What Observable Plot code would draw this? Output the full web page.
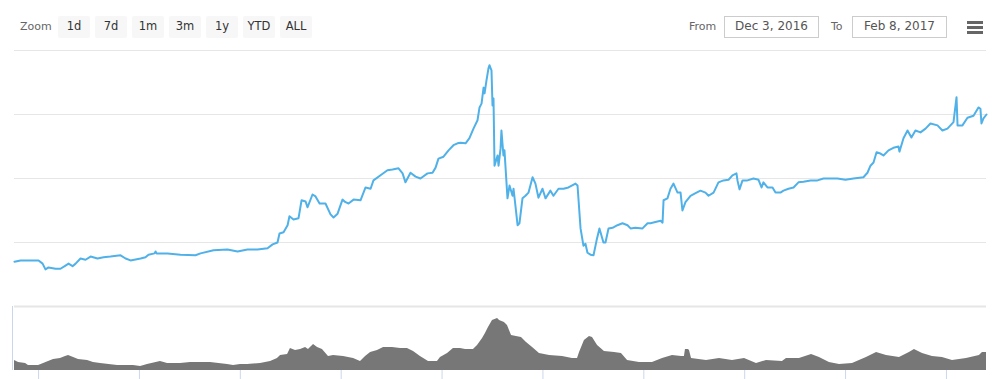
<!DOCTYPE html>
<html>
<head>
<meta charset="utf-8">
<script src="https://cdn.jsdelivr.net/npm/d3@7"></script>
<script src="https://cdn.jsdelivr.net/npm/@observablehq/plot@0.6"></script>
<style>
  body { margin: 0; background: #fff; font-family: "DejaVu Sans", sans-serif; }
  #wrap { position: relative; width: 999px; height: 379px; overflow: hidden; }
  #bar { position: absolute; left: 0; top: 0; width: 999px; height: 44px; }
  .lbl { position: absolute; top: 20px; font-size: 11px; color: #666; line-height: 14px; white-space: nowrap; }
  .btn { position: absolute; top: 16px; width: 32px; height: 22px; background: #f7f7f7; border-radius: 2px;
         font-size: 11.5px; color: #333; line-height: 20px; text-align: center; }
  .inp { position: absolute; top: 16px; width: 93px; height: 20px; border: 1px solid #ccc;
         font-size: 12px; color: #555; line-height: 19px; text-align: center; white-space: nowrap; }
  #menu { position: absolute; left: 967px; top: 21px; width: 16px; }
  #menu div { height: 3px; background: #666; margin-bottom: 2px; }
  #main { position: absolute; left: 0; top: 44px; }
  #nav { position: absolute; left: 0; top: 304px; }
  #main svg, #nav svg { max-width: none; }
</style>
</head>
<body>
<div id="wrap">
  <div id="bar"></div>
  <div id="main"></div>
  <div id="nav"></div>
</div>
<script>
// ---- data (time in days since 2016-12-03 00:00 UTC) ----
const zoomButtons = ["1d", "7d", "1m", "3m", "1y", "YTD", "ALL"];
const fromText = "Dec 3, 2016";
const toText = "Feb 8, 2017";

const priceDays = [
  0.33, 0.75, 1.44, 2.00, 2.28, 2.48, 2.69, 3.18, 3.52, 3.87,
  4.08, 4.36, 4.57, 4.91, 5.26, 5.61, 6.09, 6.51, 6.99, 7.69,
  8.04, 8.38, 9.08, 9.42, 9.63, 10.05, 10.12, 10.19, 10.95, 11.85,
  12.89, 13.24, 14.14, 15.11, 15.81, 16.50, 17.19, 17.89, 18.24, 18.58,
  18.72, 19.00, 19.28, 19.41, 19.69, 20.04, 20.25, 20.53, 20.66, 21.01,
  21.22, 21.50, 21.91, 22.26, 22.47, 22.75, 23.09, 23.30, 23.51, 23.86,
  24.34, 24.69, 25.04, 25.24, 25.73, 26.21, 26.56, 26.98, 27.26, 27.46,
  27.81, 28.16, 28.50, 28.99, 29.34, 29.55, 29.75, 30.10, 30.45, 30.79,
  31.07, 31.28, 31.63, 31.90, 32.18, 32.46, 32.60, 32.74, 32.88, 32.95,
  33.08, 33.22, 33.29, 33.36, 33.43, 33.50, 33.57, 33.64, 33.85, 33.92,
  34.06, 34.12, 34.26, 34.33, 34.54, 34.68, 34.89, 34.96, 35.24, 35.37,
  35.58, 35.79, 36.00, 36.28, 36.48, 36.69, 36.97, 37.18, 37.52, 37.73,
  38.08, 38.43, 38.77, 39.26, 39.40, 39.61, 39.81, 39.95, 40.09, 40.30,
  40.51, 40.72, 40.92, 41.20, 41.34, 41.55, 41.83, 42.17, 42.52, 42.87,
  43.08, 43.42, 43.91, 44.26, 44.46, 45.16, 45.30, 45.37, 45.64, 45.85,
  46.06, 46.34, 46.55, 46.68, 46.89, 47.24, 47.59, 47.93, 48.28, 48.49,
  48.84, 49.18, 49.53, 49.88, 50.15, 50.43, 50.50, 50.64, 50.85, 51.19,
  51.61, 51.96, 52.17, 52.30, 52.58, 52.93, 53.14, 53.48, 53.69, 54.04,
  54.39, 54.73, 55.08, 55.57, 56.05, 56.47, 57.44, 57.99, 58.55, 59.24,
  59.52, 59.73, 59.94, 60.15, 60.42, 60.63, 60.98, 61.32, 61.67, 61.74,
  62.02, 62.30, 62.57, 62.85, 63.20, 63.55, 63.89, 64.38, 64.72, 65.07,
  65.49, 65.70, 65.77, 66.11, 66.46, 66.88, 67.22, 67.36, 67.43, 67.57,
  67.78
];
const prices = [
  770, 772, 772, 772, 767, 758, 761, 759, 759, 764,
  767, 763, 767, 775, 773, 778, 775, 777, 778, 780,
  775, 772, 775, 777, 781, 783, 786, 783, 783, 781,
  780, 783, 788, 789, 786, 789, 789, 791, 797, 800,
  814, 816, 827, 841, 836, 838, 866, 864, 855, 875,
  872, 861, 861, 844, 839, 845, 867, 863, 861, 867,
  866, 886, 884, 897, 905, 913, 914, 916, 908, 894,
  909, 903, 900, 908, 909, 917, 931, 934, 944, 952,
  955, 956, 955, 963, 978, 991, 1011, 1017, 1042, 1033,
  1053, 1072, 1077, 1073, 1069, 1014, 1025, 920, 936, 920,
  947, 975, 936, 944, 869, 889, 873, 884, 827, 830,
  869, 873, 878, 902, 892, 870, 884, 869, 881, 873,
  884, 884, 886, 892, 889, 822, 795, 798, 784, 781,
  780, 803, 822, 800, 800, 822, 823, 827, 830, 827,
  822, 823, 822, 830, 830, 834, 831, 866, 869, 884,
  892, 878, 878, 850, 863, 873, 877, 881, 878, 873,
  878, 894, 897, 898, 905, 908, 897, 883, 897, 897,
  900, 898, 886, 894, 886, 886, 878, 878, 881, 884,
  886, 894, 895, 897, 897, 900, 900, 898, 900, 902,
  909, 920, 925, 941, 939, 936, 944, 948, 950, 942,
  963, 975, 964, 975, 972, 978, 986, 983, 975, 978,
  988, 1027, 983, 983, 995, 998, 1011, 1009, 986, 994,
  1000
];
const gridValues = [800, 900, 1000, 1100];

const volumeDays = [
  0.33, 0.61, 1.10, 1.30, 2.00, 2.35, 2.69, 3.04, 3.52, 3.87,
  4.08, 4.43, 4.77, 5.40, 5.81, 6.30, 7.48, 8.59, 9.08, 9.56,
  10.46, 10.95, 11.85, 12.55, 13.93, 15.11, 15.53, 16.01, 16.50, 17.40,
  18.10, 18.58, 18.79, 19.28, 19.48, 19.83, 20.18, 20.53, 20.73, 21.08,
  21.36, 21.70, 22.12, 22.47, 23.16, 23.86, 24.34, 24.69, 25.04, 25.52,
  25.94, 26.56, 27.12, 27.60, 28.02, 28.50, 29.06, 29.68, 29.89, 30.38,
  30.79, 31.28, 31.63, 32.18, 32.46, 32.81, 33.01, 33.22, 33.50, 33.85,
  33.99, 34.33, 34.54, 34.82, 35.16, 35.51, 35.86, 36.28, 36.76, 37.46,
  38.36, 39.05, 39.40, 39.54, 39.88, 40.23, 40.44, 40.79, 41.27, 41.97,
  42.45, 42.87, 43.70, 44.60, 45.30, 45.99, 46.62, 46.82, 46.89, 47.10,
  47.17, 47.31, 48.35, 49.25, 50.15, 50.99, 51.82, 52.51, 53.62, 53.90,
  54.80, 55.64, 56.19, 56.88, 57.58, 58.48, 59.45, 60.15, 60.84, 61.74,
  62.43, 62.78, 63.34, 64.03, 64.72, 65.42, 66.39, 67.29, 67.50, 67.78
];
const volumes = [
  500, 400, 350, 250, 250, 350, 450, 550, 600, 700,
  750, 650, 550, 500, 400, 350, 250, 250, 200, 300,
  450, 350, 350, 400, 400, 300, 250, 300, 300, 350,
  450, 600, 750, 800, 1100, 1000, 1050, 1150, 1050, 1300,
  1150, 1050, 700, 750, 700, 600, 450, 700, 900, 1000,
  1150, 1150, 1100, 1100, 950, 700, 450, 450, 650, 850,
  1100, 1100, 1050, 1050, 1250, 1600, 1850, 2150, 2500, 2600,
  2500, 2400, 2250, 1750, 1700, 1650, 1400, 1150, 850, 750,
  700, 600, 600, 900, 1500, 1700, 1650, 1250, 950, 900,
  850, 500, 400, 400, 600, 750, 700, 700, 1050, 1050,
  1000, 600, 500, 600, 500, 600, 350, 500, 450, 600,
  600, 800, 650, 400, 300, 350, 650, 900, 750, 650,
  900, 1050, 850, 700, 650, 500, 600, 750, 900, 900
];
const volumeMax = 3200;

// ---- build ----
const origin = Date.UTC(2016, 11, 3);
const toDate = d => new Date(origin + d * 864e5);
const priceData = priceDays.map((d, i) => ({date: toDate(d), price: prices[i]}));
const volumeData = volumeDays.map((d, i) => ({date: toDate(d), volume: volumes[i]}));
const xDomain = d3.extent(priceData, d => d.date);
const weekTicks = d3.utcMonday.range(xDomain[0], xDomain[1]);

// toolbar (HTML)
const bar = document.getElementById("bar");
function add(cls, text, left) {
  const el = document.createElement("div");
  el.className = cls; el.textContent = text; el.style.left = left + "px";
  bar.appendChild(el);
}
add("lbl", "Zoom", 20);
zoomButtons.forEach((b, i) => add("btn", b, 58 + i * 37));
add("lbl", "From", 689);
add("inp", fromText, 724);
add("lbl", "To", 831);
add("inp", toText, 852);
const menu = document.createElement("div");
menu.id = "menu";
menu.innerHTML = "<div></div><div></div><div></div>";
bar.appendChild(menu);

// main chart
const main = Plot.plot({
  width: 999, height: 262,
  marginTop: 6, marginBottom: 0, marginLeft: 14, marginRight: 13,
  x: {type: "utc", domain: xDomain, axis: null},
  y: {domain: [700, 1100], axis: null},
  marks: [
    Plot.ruleY(gridValues, {stroke: "#e6e6e6", strokeWidth: 1}),
    Plot.line(priceData, {x: "date", y: "price", stroke: "#50b1e8", strokeWidth: 2, strokeLinejoin: "round"})
  ]
});
document.getElementById("main").appendChild(main);

// navigator
const nav = Plot.plot({
  width: 999, height: 75,
  marginTop: 2, marginBottom: 9, marginLeft: 14, marginRight: 13,
  x: {type: "utc", domain: xDomain, axis: null},
  y: {domain: [0, volumeMax], axis: null},
  marks: [
    Plot.areaY(volumeData, {x: "date", y: "volume", fill: "#777777"}),
    Plot.ruleY([volumeMax], {stroke: "#e6e6e6", strokeWidth: 2}),
    Plot.ruleX([xDomain[0]], {dx: -2, stroke: "#ccd6eb"}),
    Plot.axisX({ticks: weekTicks, tickSize: 9, stroke: "#ccd6eb", fill: "none", label: null})
  ]
});
document.getElementById("nav").appendChild(nav);
</script>
</body>
</html>
